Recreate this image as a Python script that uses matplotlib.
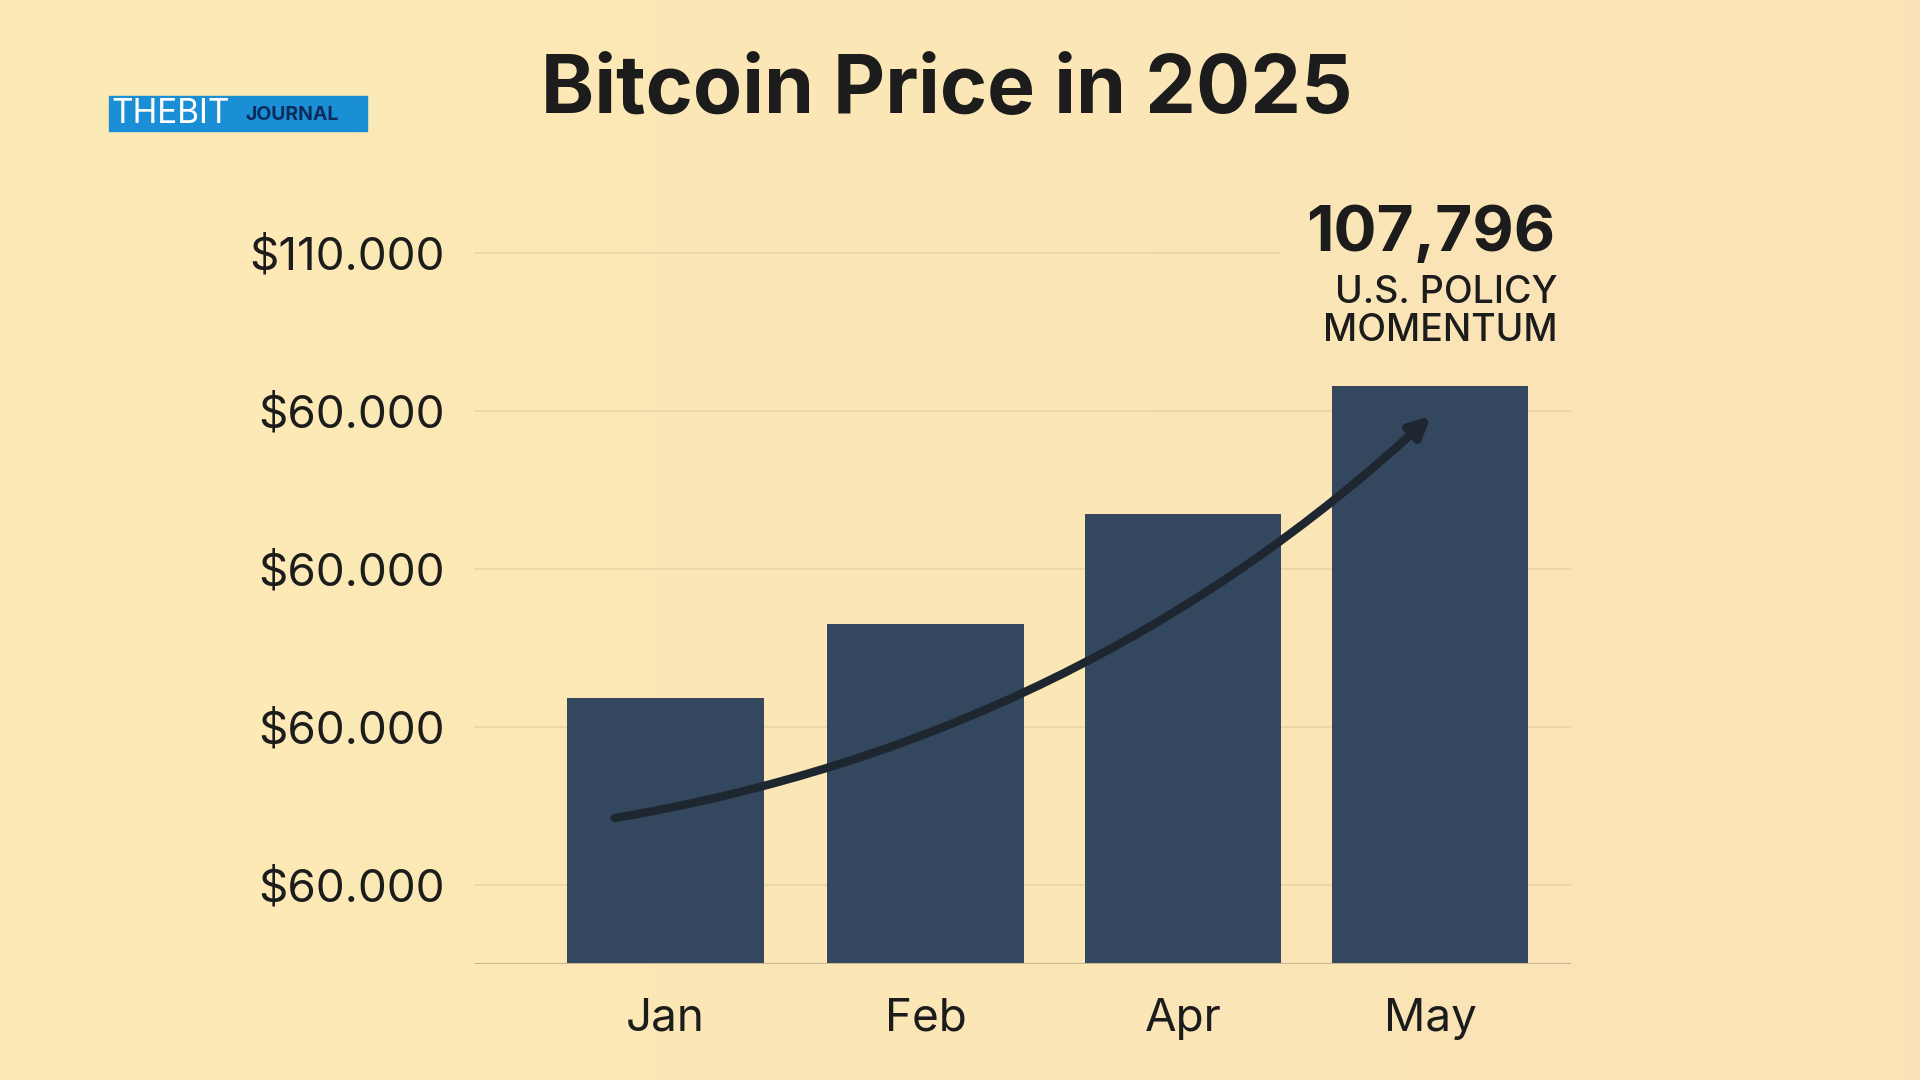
import matplotlib.pyplot as plt
import numpy as np
from matplotlib.patches import FancyBboxPatch

plt.rcParams["font.family"] = "Inter"

months = ["Jan", "Feb", "Apr", "May"]
values = [2.18, 2.65, 3.35, 4.16]
tick_pos = [1, 2, 3, 4, 5]
tick_labels = ["$60.000", "$60.000", "$60.000", "$60.000", "$110.000"]

fig = plt.figure(figsize=(19.2, 10.8), dpi=100)
bg = fig.add_axes([0, 0, 1, 1], zorder=-10)
grad = np.linspace(0, 1, 256)
img = np.zeros((2, 256, 3))
c1 = np.array([0.99, 0.92, 0.71]); c2 = np.array([0.98, 0.89, 0.72])
img[:] = c1 + (c2 - c1) * grad[None, :, None]
bg.imshow(img, aspect="auto", extent=[0, 1, 0, 1])
bg.axis("off")

ax = fig.add_axes([0.247, 0.107, 0.571, 0.723])
ax.set_facecolor("none")
x = np.array([0, 1.02, 2.03, 3.0])
ax.bar(x, np.array(values) - 0.496, bottom=0.496, width=0.77, color="#33475f", zorder=3)
ax.set_xlim(-0.75, 3.55)
ax.set_ylim(0.496, 5.44)
for i, p in enumerate(tick_pos):
    ax.axhline(p, xmax=(0.735 if i == 4 else 1), color="#e8d5a8", lw=1.2, zorder=1)
ax.axhline(0.496, color="#c9b48e", lw=1.5, zorder=4)
ax.set_yticks(tick_pos, tick_labels, fontsize=33, color="#1c1c1c")
ax.set_xticks(x, months, fontsize=33, color="#1c1c1c")
ax.tick_params(axis="x", length=0, pad=24)
ax.tick_params(axis="y", length=0, pad=21)
for s in ax.spines.values():
    s.set_visible(False)

ax.annotate("", xy=(3.01, 3.98), xytext=(-0.21, 1.42),
            arrowprops=dict(arrowstyle="-|>,head_length=1.2,head_width=0.6",
                            connectionstyle="arc3,rad=0.15", color="#1e2630", lw=6),
            zorder=5)

ax.text(3.0, 4.93, "107,796", ha="center", va="bottom", fontsize=46, fontweight="bold", color="#1c1c1c")
ax.text(3.5, 4.86, "U.S. POLICY\nMOMENTUM", ha="right", va="top", fontsize=27, fontweight="medium",
        color="#1c1c1c", linespacing=1.05)

fig.text(0.493, 0.915, "Bitcoin Price in 2025", ha="center", va="center", fontsize=58, fontweight="bold", color="#1c1c1c")
fig.patches.append(FancyBboxPatch((0.057, 0.879), 0.134, 0.032, boxstyle="square,pad=0",
                                  transform=fig.transFigure, color="#1a8fd6"))
fig.text(0.058, 0.8945, "THEBIT", ha="left", va="center", fontsize=24, color="white")
fig.text(0.128, 0.8935, "JOURNAL", ha="left", va="center", fontsize=14, fontweight="bold", color="#0b2c5a")

fig.savefig("out.png", dpi=100)
